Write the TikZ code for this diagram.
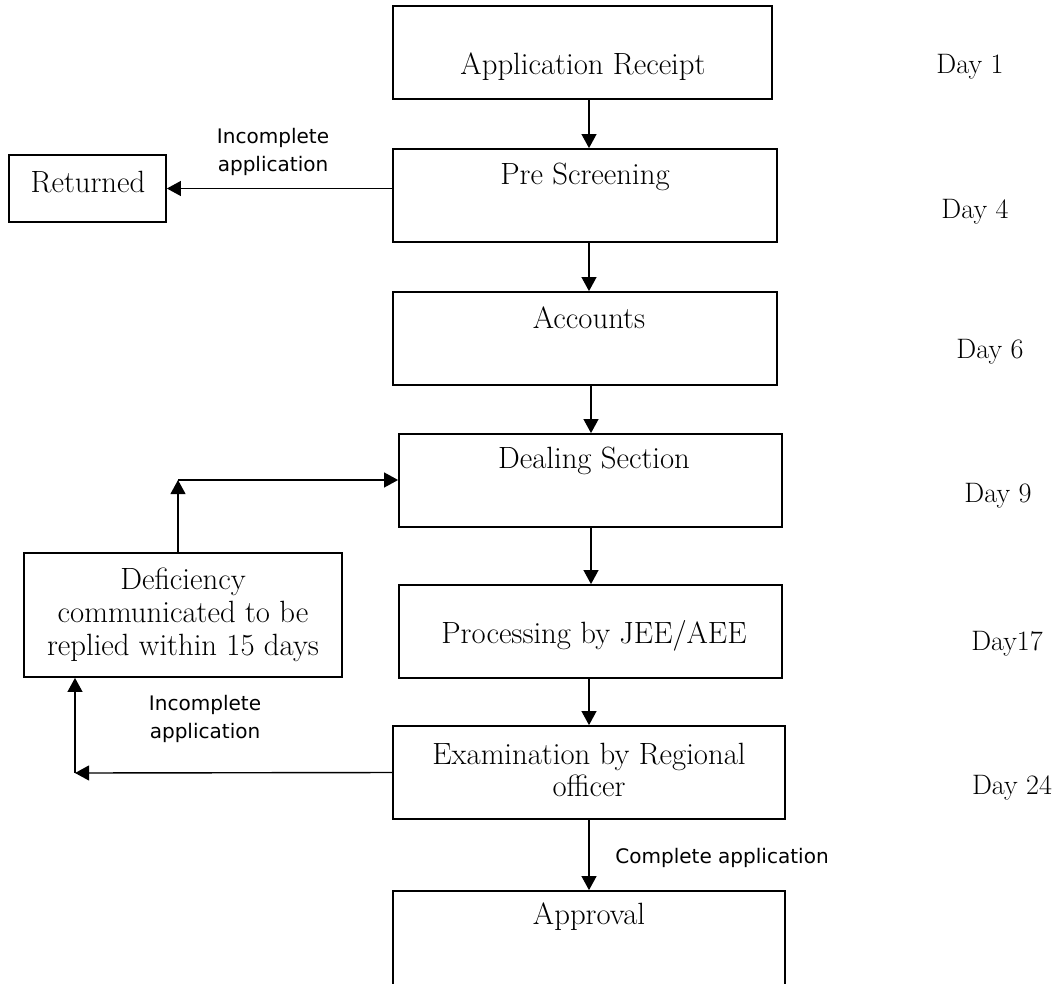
\documentclass[tikz,border=0pt]{standalone}
\usepackage{fontspec}
\newfontfamily\labelfont{DejaVu Sans}
\usetikzlibrary{arrows.meta,calc}
\begin{document}
\begin{tikzpicture}[x=0.02cm,y=-0.02cm,
  box/.style={draw,line width=1pt,inner sep=0pt},
  boxtext/.style={font=\fontsize{17.5}{18.7}\selectfont,align=center,inner sep=0pt},
  daytext/.style={font=\fontsize{16}{18.7}\selectfont,inner sep=0pt},
  edgetext/.style={font=\labelfont\fontsize{11.4}{16}\selectfont,align=center,inner sep=0pt},
  arr/.style={line width=0.8pt,-{Triangle[length=8pt,width=8.5pt]}}]
\useasboundingbox (0,0) rectangle (1053,983);
\clip (0,0) rectangle (1053,983);

% main column of process steps
\node[box,minimum width=379*0.02cm,minimum height=93*0.02cm] (ar) at (582.5,52.5) {};
\node[box,minimum width=384*0.02cm,minimum height=93*0.02cm] (ps) at (585,195.5) {};
\node[box,minimum width=384*0.02cm,minimum height=93*0.02cm] (ac) at (585,338.5) {};
\node[box,minimum width=383*0.02cm,minimum height=93*0.02cm] (ds) at (590.5,480.5) {};
\node[box,minimum width=383*0.02cm,minimum height=93*0.02cm] (pr) at (590.5,631.5) {};
\node[box,minimum width=392*0.02cm,minimum height=93*0.02cm] (ex) at (589,772.5) {};
\node[box,minimum width=392*0.02cm,minimum height=100*0.02cm] (ap) at (589,941) {};

% side boxes
\node[box,minimum width=157*0.02cm,minimum height=67*0.02cm] (rt) at (87.5,188.5) {};
\node[box,minimum width=318*0.02cm,minimum height=124*0.02cm] (df) at (183,615) {};

% box captions
\node[boxtext] at (583,67) {Application Receipt};
\node[boxtext] at (585,177) {Pre Screening};
\node[boxtext] at (589,318) {Accounts};
\node[boxtext] at (594,461) {Dealing Section};
\node[boxtext] at (594,636) {Processing by JEE/AEE};
\node[boxtext] at (589,770) {Examination by Regional\\officer};
\node[boxtext] at (589,917) {Approval};
\node[boxtext] at (88,182) {Returned};
\node[boxtext] at (183,615) {Deficiency\\communicated to be\\replied within 15 days};

% timeline
\node[daytext] at (970,67) {Day 1};
\node[daytext] at (975,212) {Day 4};
\node[daytext] at (990,352) {Day 6};
\node[daytext] at (998,496) {Day 9};
\node[daytext] at (1007,644) {Day17};
\node[daytext] at (1012,788) {Day 24};

% connectors
\coordinate (col) at (589,0);
\coordinate (col2) at (591,0);
\draw[arr] (ar.south -| col) -- (ps.north -| col);
\draw[arr] (ps.south -| col) -- (ac.north -| col);
\draw[arr] (ac.south -| col2) -- (ds.north -| col2);
\draw[arr] (ds.south -| col2) -- (pr.north -| col2);
\draw[arr] (pr.south -| col) -- (ex.north -| col);
\draw[arr] (ex.south -| col) -- (ap.north -| col);

\draw[arr] (rt.east -| ps.west) -- (rt.east);

\coordinate (c1) at (75,773);
\draw[arr] (ex.west) -- (c1);
\draw[arr] (c1) -- (df.south -| c1);

\coordinate (c2) at (178,480);
\draw[arr] (df.north -| c2) -- (c2);
\draw[arr] (c2) -- (ds.west |- c2);

% connector labels
\node[edgetext] at (273,152) {Incomplete\\application};
\node[edgetext] at (205,719) {Incomplete\\application};
\node[edgetext] at (722,858) {Complete application};
\end{tikzpicture}
\end{document}
